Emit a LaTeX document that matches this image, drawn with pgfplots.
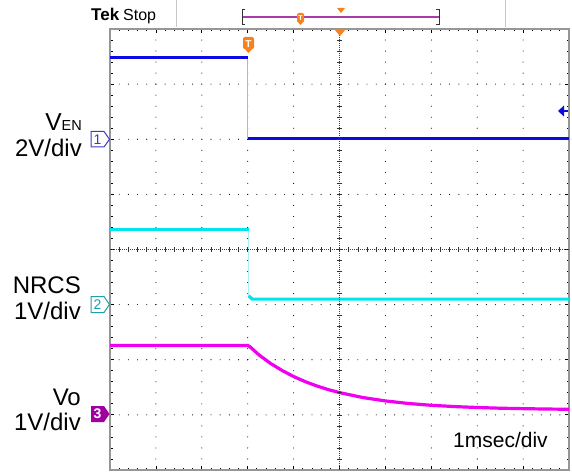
\documentclass[border=0pt]{standalone}
\usepackage{pgfplots}
\pgfplotsset{compat=1.18}
\usepackage{fontspec}
\setmainfont{Liberation Sans}
\definecolor{chA}{RGB}{10,10,225}
\definecolor{chAedge}{RGB}{175,175,240}
\definecolor{chB}{RGB}{0,228,235}
\definecolor{chBedge}{RGB}{170,240,245}
\definecolor{chC}{RGB}{240,0,240}
\definecolor{chAmark}{RGB}{60,60,200}
\definecolor{chBmark}{RGB}{30,160,170}
\definecolor{chCmark}{RGB}{160,0,160}
\definecolor{tekorange}{RGB}{245,130,30}
\definecolor{framegray}{RGB}{150,150,150}
\definecolor{purpleline}{RGB}{170,60,170}
\begin{document}
\begin{tikzpicture}[x=1bp,y=1bp]
\useasboundingbox (0,0) rectangle (572,-472);
% header
\node[anchor=base west, inner sep=0pt, font=\fontsize{17bp}{17bp}\selectfont\bfseries] at (91,-21) {Tek};
\node[anchor=base west, inner sep=0pt, font=\fontsize{16bp}{16bp}\selectfont] at (123,-21) {Stop};
\draw[black!22, line width=1bp] (176,0) -- (176,-27);
\draw[black!22, line width=1bp] (505,0) -- (505,-27);
\draw[purpleline, line width=1.2bp] (242,-17) -- (439,-17);
\draw[black!80, line width=1bp] (245,-10) -- (242,-10) -- (242,-25) -- (245,-25);
\draw[black!80, line width=1bp] (436,-10) -- (439,-10) -- (439,-25) -- (436,-25);
\fill[tekorange, rounded corners=1.5bp] (297,-13) rectangle (304,-22);
\fill[tekorange] (297,-21) -- (304,-21) -- (300.5,-25) -- cycle;
\node[white, inner sep=0pt, font=\fontsize{7bp}{7bp}\selectfont\bfseries] at (300.5,-18) {T};
\fill[tekorange] (337,-8) -- (345,-8) -- (341,-13) -- cycle;
\begin{axis}[
  at={(110bp,-470bp)}, anchor=south west,
  scale only axis, width=459bp, height=441bp,
  xmin=-5, xmax=5, ymin=-4, ymax=4,
  xtick={-5,...,5}, ytick={-4,...,4},
  minor x tick num=4, minor y tick num=4,
  xticklabels={}, yticklabels={},
  tick align=inside, tick pos=both,
  major tick length=4bp, minor tick length=2.5bp,
  every tick/.append style={black, line width=0.8bp},
  axis line style={framegray, line width=2.5bp},
  grid=major,
  major x grid style={black, line width=1.1bp, line cap=round, dash pattern=on 0bp off 11.025bp},
  major y grid style={black, line width=1.1bp, line cap=round, dash pattern=on 0bp off 9.18bp},
  clip=true,
]
% channel 1: V_EN, 2 V/div, ground at +2 div
\addplot[chAedge, line width=1.5bp, y filter/.expression={2+y/2}] coordinates {(-2,2.98) (-2,0.04)};
\addplot[chA, line width=3.2bp, y filter/.expression={2+y/2}] coordinates {(-5,2.98) (-2,2.98)};
\addplot[chA, line width=3.2bp, y filter/.expression={2+y/2}] coordinates {(-2,0.04) (5,0.04)};
% channel 2: NRCS, 1 V/div, ground at -1 div
\addplot[chBedge, line width=1.5bp, y filter/.expression={-1+y}] coordinates {(-1.98,1.37) (-1.98,0.16)};
\addplot[chB, line width=3.2bp, y filter/.expression={-1+y}] coordinates {(-5,1.37) (-1.98,1.37)};
\addplot[chB, line width=3.2bp, y filter/.expression={-1+y}] coordinates {(-1.98,0.16) (-1.9,0.1) (5,0.1)};
% channel 3: Vo, 1 V/div, ground at -3 div
\addplot[chC, line width=3.2bp, y filter/.expression={-3+y}] coordinates {
(-5,1.26) (-2,1.26) (-1.95,1.235) (-1.85,1.16) (-1.75,1.085) (-1.5,0.932)
(-1.25,0.805) (-1,0.696) (-0.75,0.604) (-0.5,0.526) (-0.25,0.46) (0,0.404)
(0.5,0.316) (1,0.253) (1.5,0.207) (2,0.174) (2.5,0.151) (3,0.134)
(3.5,0.121) (4,0.113) (4.5,0.106) (5,0.102)};
\end{axis}
% center cross lines
\draw[black!75, line width=0.7bp, dash pattern=on 0.7bp off 1.3bp] (339.5,-29) -- (339.5,-470);
\draw[black!75, line width=0.7bp, dash pattern=on 0.7bp off 1.3bp] (110,-249.5) -- (569,-249.5);
\foreach \i in {1,...,39} \draw[black!80, line width=0.7bp] (337,{-29-\i*11.025}) -- ++(5,0);
\foreach \i in {1,...,49} \draw[black!80, line width=0.7bp] ({110+\i*9.18},-247) -- ++(0,-5);
% markers in plot
\fill[tekorange] (334,-29) -- (346,-29) -- (340,-36) -- cycle;
\fill[tekorange, rounded corners=2bp] (243,-37) rectangle (254,-49);
\fill[tekorange] (243,-47) -- (254,-47) -- (248.5,-53) -- cycle;
\node[white, inner sep=0pt, font=\fontsize{10bp}{10bp}\selectfont\bfseries] at (248.5,-44) {T};
\fill[chA] (558,-111) -- (564,-105.5) -- (564,-116.5) -- cycle;
\draw[chA, line width=1.5bp] (563,-111) -- (568,-111);
% channel markers
\draw[chAmark, fill=white, line width=1bp] (91,-131.5) -- (104,-131.5) -- (109.5,-139.3) -- (104,-147) -- (91,-147) -- cycle;
\node[chAmark, inner sep=0pt, font=\fontsize{14bp}{14bp}\selectfont] at (97.5,-139.3) {1};
\draw[chBmark, fill=white, line width=1bp] (91,-296.5) -- (104,-296.5) -- (109.5,-304.5) -- (104,-312.5) -- (91,-312.5) -- cycle;
\node[chBmark, inner sep=0pt, font=\fontsize{14bp}{14bp}\selectfont] at (97.5,-304.5) {2};
\fill[chCmark] (91,-406) -- (104,-406) -- (109.5,-414) -- (104,-422) -- (91,-422) -- cycle;
\node[white, inner sep=0pt, font=\fontsize{14bp}{14bp}\selectfont\bfseries] at (97.5,-414) {3};
% channel labels
\node[anchor=base east, inner sep=0pt, font=\fontsize{24.5bp}{26bp}\selectfont] at (82,-131) {V{\fontsize{14.5bp}{15bp}\selectfont EN}};
\node[anchor=base east, inner sep=0pt, font=\fontsize{24bp}{26bp}\selectfont] at (82,-157) {2V/div};
\node[anchor=base east, inner sep=0pt, font=\fontsize{24bp}{26bp}\selectfont] at (81,-293) {NRCS};
\node[anchor=base east, inner sep=0pt, font=\fontsize{24bp}{26bp}\selectfont] at (81,-319) {1V/div};
\node[anchor=base east, inner sep=0pt, font=\fontsize{24bp}{26bp}\selectfont] at (81,-405) {Vo};
\node[anchor=base east, inner sep=0pt, font=\fontsize{24bp}{26bp}\selectfont] at (81,-430) {1V/div};
\node[anchor=base west, inner sep=0pt, font=\fontsize{21bp}{22bp}\selectfont] at (453,-447) {1msec/div};
\end{tikzpicture}
\end{document}
